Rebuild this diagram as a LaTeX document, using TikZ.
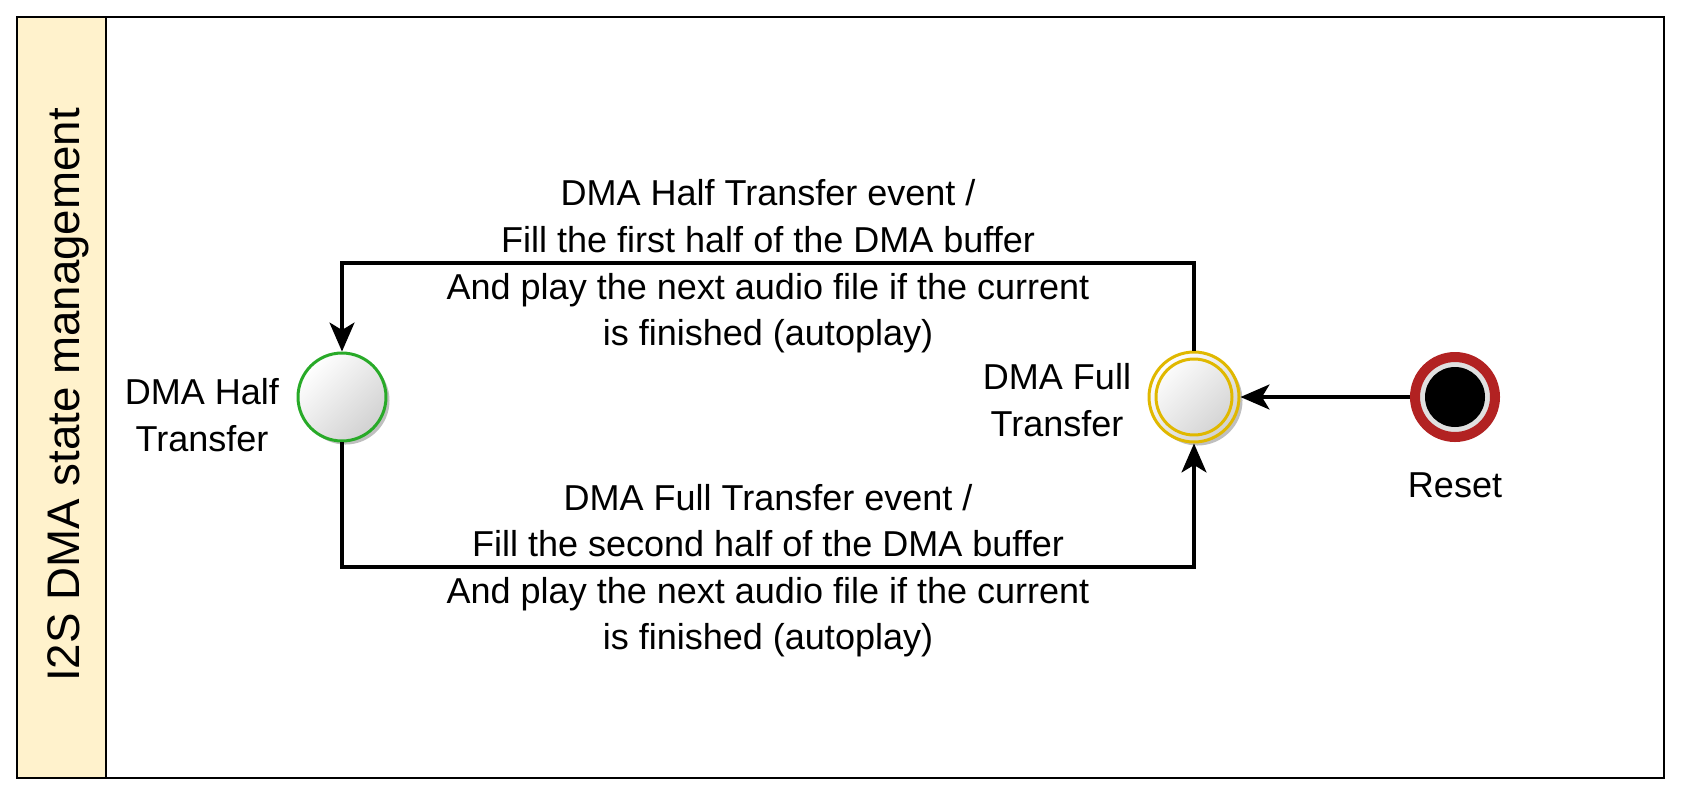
\documentclass[tikz,border=0pt]{standalone}
\usepackage{fontspec}
\setmainfont{Liberation Sans}
\usetikzlibrary{arrows.meta,shadows}
\definecolor{laneyellow}{HTML}{FFF2CC}
\definecolor{halfgreen}{RGB}{40,170,40}
\definecolor{fullgold}{RGB}{224,184,0}
\definecolor{resetred}{RGB}{178,34,34}

\begin{document}
\begin{tikzpicture}[x=0.02cm,y=-0.02cm,
    flow/.style={line width=1.8pt,-{Stealth[length=0.58cm,width=0.5cm,inset=0.15cm]}},
    state/.style={circle,line width=1.7pt,top color=white,bottom color=black!18,shading angle=45,
        drop shadow={shadow xshift=2pt,shadow yshift=-2pt,opacity=0.25,fill=black}},
    txt/.style={font=\fontsize{20.5}{26.5}\selectfont,align=center}]
    \useasboundingbox (0,0) rectangle (1683,795);

    % swimlane
    \fill[laneyellow] (17,17) rectangle (106,778);
    \draw[line width=1.4pt] (17,17) rectangle (1664,778);
    \draw[line width=1.4pt] (106,17) -- (106,778);
    \node[rotate=90,font=\fontsize{26}{30}\selectfont] (lane) at (68,395) {I2S DMA state management};

    % states
    \node[state,draw=halfgreen,minimum size=1.76cm] (half) at (342,397) {};
    \node[state,draw=fullgold,minimum size=1.8cm] (full) at (1194,397) {};
    \node[circle,draw=fullgold,line width=1.7pt,minimum size=1.52cm] (fullin) at (full) {};
    \node[circle,draw=resetred,fill=black!12,line width=5.7pt,minimum size=1.6cm,
        drop shadow={shadow xshift=2pt,shadow yshift=-2pt,opacity=0.25,fill=black}] (reset) at (1455,397) {};
    \node[circle,fill=black,minimum size=1.2cm] (resetdot) at (reset) {};

    \node[txt] (halflbl) at (202,415) {DMA Half\\Transfer};
    \node[txt] (fulllbl) at (1057,400) {DMA Full\\Transfer};
    \node[txt] (resetlbl) at (1455,485) {Reset};

    \coordinate (tl) at (342,263);
    \coordinate (tr) at (1194,263);
    \coordinate (bl) at (342,567);
    \coordinate (br) at (1194,567);

    % transitions
    \draw[flow] (full.north) -- (tr) -- node[txt,yshift=-2pt] (toplbl) {DMA Half Transfer event /\\Fill the first half of the DMA buffer\\And play the next audio file if the current\\is finished (autoplay)} (tl) -- (half.north);
    \draw[flow] (half.south) -- (bl) -- node[txt,yshift=-2pt] (botlbl) {DMA Full Transfer event /\\Fill the second half of the DMA buffer\\And play the next audio file if the current\\is finished (autoplay)} (br) -- (full.south);
    \draw[flow] (reset) -- (full);
\end{tikzpicture}
\end{document}
